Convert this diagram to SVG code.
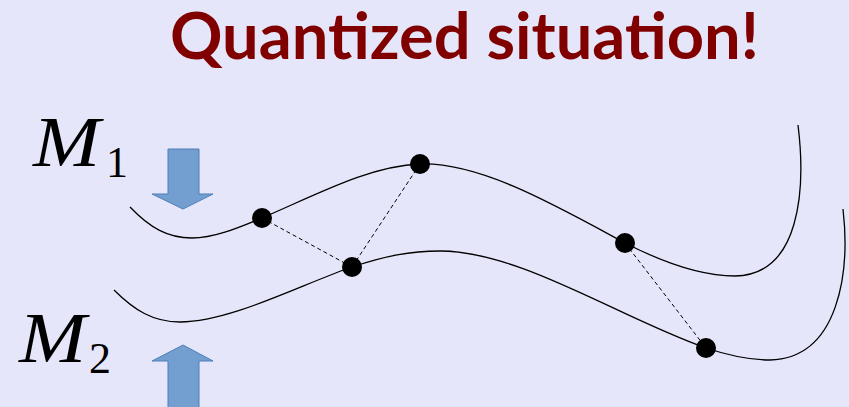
<svg xmlns="http://www.w3.org/2000/svg" width="849" height="407" viewBox="0 0 849 407">
<style>
.title{font-family:Lato,"Open Sans",sans-serif;font-weight:bold;font-size:65px;fill:#800000}
.curve{fill:none;stroke:#000;stroke-width:1.3}
.dash{fill:none;stroke:#000;stroke-width:1;stroke-dasharray:4 3}
.dot{fill:#000}
.arrow{fill:#729fcf;stroke:#4f7fb8;stroke-width:1}
.mv{font-family:"Liberation Serif",serif;font-style:italic;font-size:72px;fill:#000}
.sub{font-family:"Liberation Serif",serif;font-size:44px;fill:#000}
</style>
<rect width="849" height="407" fill="#e6e6fa"/>
<text class="title" x="464.5" y="59" text-anchor="middle">Quantized situation!</text>
<g id="M1-label"><text class="mv" x="33" y="166" transform="translate(33 0) scale(1.12 1) translate(-33 0)">M</text><text class="sub" x="106" y="177">1</text></g>
<g id="M2-label"><text class="mv" x="19" y="362" transform="translate(19 0) scale(1.12 1) translate(-19 0)">M</text><text class="sub" x="89" y="373">2</text></g>
<g id="arrow-down"><path class="arrow" d="M168 149 H199 V194 H213 L183 209 L152 194 H168 Z"/></g>
<g id="arrow-up"><path class="arrow" d="M168 408 V361 H152 L183 345 L213 361 H199 V408 Z"/></g>
<g id="M1"><path class="curve" d="M130 207 C150 228 168 238 192 238 C215 238 240 227 262 218 C320 193 370 166 420 164 C480 162 555 205 625 243 C670 266 705 276 735 276 C800 275 806 190 798 125"/></g>
<g id="M2"><path class="curve" d="M114 290 C134 310 153 322 180 322 C230 322 300 285 352 267 C385 256 410 251 440 251 C520 251 620 318 706 348 C730 356 750 360 770 360 C840 358 850 270 843 209"/></g>
<g id="connectors">
<line class="dash" x1="262" y1="218" x2="352" y2="267"/>
<line class="dash" x1="420" y1="164" x2="352" y2="267"/>
<line class="dash" x1="625" y1="243" x2="706" y2="348"/>
</g>
<g id="p1"><circle class="dot" cx="262" cy="218" r="10"/></g>
<g id="p2"><circle class="dot" cx="420" cy="164" r="10"/></g>
<g id="p3"><circle class="dot" cx="352" cy="267" r="10"/></g>
<g id="p4"><circle class="dot" cx="625" cy="243" r="10"/></g>
<g id="p5"><circle class="dot" cx="706" cy="348" r="10"/></g>
</svg>
